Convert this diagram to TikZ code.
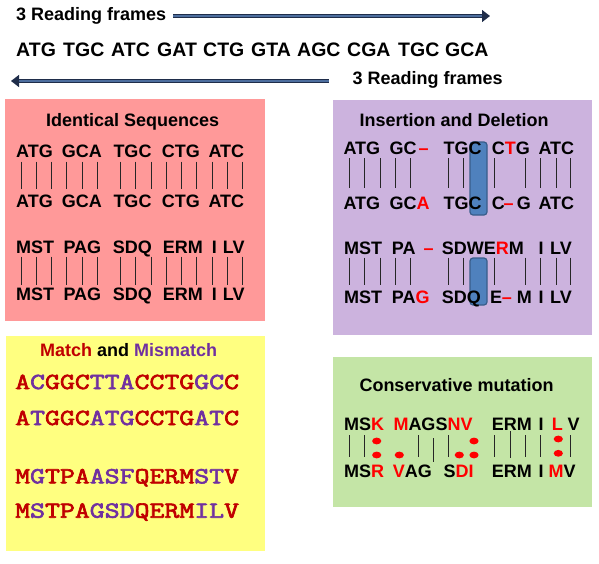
\documentclass[tikz,border=0pt]{standalone}
\usepackage{fontspec}
\setmainfont{Liberation Sans}
\newfontfamily\seqmono[FakeBold=2.5]{Latin Modern Mono}
\usetikzlibrary{arrows.meta,positioning}

\definecolor{pinkbg}{HTML}{FF9999}
\definecolor{lilacbg}{HTML}{CCB3DE}
\definecolor{yellowbg}{HTML}{FFFF80}
\definecolor{greenbg}{HTML}{C4E5A6}
\definecolor{matchred}{HTML}{C00000}
\definecolor{mispurple}{HTML}{7030A0}
\definecolor{hlblue}{HTML}{4F81BD}
\definecolor{hlline}{HTML}{385D8A}
\definecolor{arrowdark}{HTML}{1F2D4A}
\definecolor{arrowblue}{HTML}{4D6E9E}

\newcommand{\rd}[1]{\textcolor{red}{#1}}
\newcommand{\mt}[1]{\textcolor{matchred}{#1}}
\newcommand{\mm}[1]{\textcolor{mispurple}{#1}}
\newcommand{\monorow}[1]{\scalebox{1.26}[1]{#1}}

\begin{document}
\begin{tikzpicture}[x=1pt, y=-1pt,
  panel/.style={anchor=north west, inner sep=0pt, draw=none},
  ttl/.style={anchor=base west, inner sep=0pt, font=\fontsize{18}{18}\selectfont\bfseries},
  seq/.style={anchor=base west, inner sep=0pt, font=\fontsize{18}{18}\selectfont\bfseries},
  mono/.style={anchor=base west, inner sep=0pt, font=\fontsize{23}{23}\selectfont\seqmono\bfseries},
  bar/.style={line width=0.8pt, black!85},
  hl/.style={fill=hlblue, draw=hlline, line width=1.2pt, rounded corners=3pt},
  fatarrow/.style={draw=arrowdark, double=arrowblue, double distance=2.2pt, line width=1.3pt, -{Triangle[length=8pt, width=12pt]}}
]
\useasboundingbox (0,0) rectangle (599,563);

% reading frames
\node[ttl] (rf1) at (16,20) {3 Reading frames};
\coordinate (rf1tip) at (490,16);
\draw[fatarrow] (rf1.east |- rf1tip) ++(7,0) -- (rf1tip);
\foreach \w/\x [count=\i] in {ATG/16,TGC/63,ATC/111,GAT/157,CTG/203,GTA/251,AGC/297,CGA/347,TGC/398,GCA/445}
  \node[seq, font=\fontsize{19.5}{19.5}\selectfont\bfseries] (frame\i) at (\x,56.7) {\w};
\node[ttl] (rf2) at (352.5,84) {3 Reading frames};
\coordinate (rf2tip) at (11,81);
\draw[fatarrow] (rf2.west |- rf2tip) ++(-24,0) -- (rf2tip);

% panels
\node[panel, fill=pinkbg, minimum width=260pt, minimum height=222pt] (idpanel) at (5,99) {};
\node[panel, fill=lilacbg, minimum width=259pt, minimum height=235pt] (indelpanel) at (333,100) {};
\node[panel, fill=yellowbg, minimum width=259pt, minimum height=215pt] (mmpanel) at (6,336) {};
\node[panel, fill=greenbg, minimum width=259pt, minimum height=150pt] (conspanel) at (333,357) {};

% identical sequences
\node[ttl] (idttl) at (46,126.7) {Identical Sequences};
\foreach \w/\x [count=\i] in {ATG/16,GCA/61.7,TGC/113.3,CTG/161.7,ATC/208.3} {
  \node[seq] (iddna\i) at (\x,157.3) {\w};
  \node[seq] (iddnb\i) at (\x,207.3) {\w};
}
\foreach \w/\x [count=\i] in {MST/16,PAG/63.3,SDQ/112.7,ERM/162.7,I/211.7,LV/222.7} {
  \node[seq] (idpra\i) at (\x,253.3) {\w};
  \node[seq] (idprb\i) at (\x,300.7) {\w};
}
\foreach \x in {21,36,51.7,66.7,82,97.3,120.7,135.7,151,166,181.7,196.7,212,227.3,242.3} {
  \draw[bar] (\x,161.7) -- (\x,189.3);
  \draw[bar] (\x,256.7) -- (\x,285);
}

% insertion and deletion
\node[ttl] (indelttl) at (359.3,126.7) {Insertion and Deletion};
\draw[hl] (470,142) rectangle (487,215);
\draw[hl] (470,258) rectangle (487,305);
\foreach \w/\x [count=\i] in {ATG/343.3,GC/389.3,{\rd{--}}/418.3,TGC/443.3,{C\rd{T}G}/491.7,ATC/538.3}
  \node[seq] (indna\i) at (\x,154) {\w};
\foreach \w/\x [count=\i] in {ATG/343.3,{GC\rd{A}}/389.3,TGC/443.3,C/491.7,{\rd{--}}/503.3,G/516.7,ATC/538.3}
  \node[seq] (indnb\i) at (\x,209.3) {\w};
\foreach \w/\x [count=\i] in {MST/344,PA/391.7,{\rd{--}}/423.3,{SDWE\rd{R}M}/441.7,I/538.3,LV/550}
  \node[seq] (inpra\i) at (\x,254.3) {\w};
\foreach \w/\x [count=\i] in {MST/344,{PA\rd{G}}/391.7,SDQ/441.7,E/490,{\rd{--}}/501.7,M/516.7,I/538.3,LV/550}
  \node[seq] (inprb\i) at (\x,303.3) {\w};
\foreach \x in {349.3,364.7,380,395.3,410,448.3,463.3,494,525,540.7,556,570.7} {
  \draw[bar] (\x,158.3) -- (\x,188.3);
  \draw[bar] (\x,257.7) -- (\x,285);
}

% match and mismatch
\node[ttl] (mmttl) at (40,356.7) {\mt{Match} and \mm{Mismatch}};
\node[mono] (mmdna1) at (15,389) {\monorow{\mt{A}\mm{C}\mt{GGC}\mm{TTA}\mt{CCTG}\mm{GC}\mt{C}}};
\node[mono] (mmdna2) at (15,425) {\monorow{\mt{A}\mm{T}\mt{GGC}\mm{ATG}\mt{CCTG}\mm{AT}\mt{C}}};
\node[mono] (mmpro1) at (15,483.3) {\monorow{\mt{M}\mm{G}\mt{TPA}\mm{ASF}\mt{QERM}\mm{ST}\mt{V}}};
\node[mono] (mmpro2) at (15,517.7) {\monorow{\mt{M}\mm{S}\mt{TPA}\mm{GSD}\mt{QERM}\mm{IL}\mt{V}}};

% conservative mutation
\node[ttl] (consttl) at (359.3,391.7) {Conservative mutation};
\foreach \w/\x [count=\i] in {{MS\rd{K}}/344,{\rd{M}AGS\rd{NV}}/393.3,ERM/491.7,I/538.3,{\rd{L}}/551.7,V/567.3}
  \node[seq] (cona\i) at (\x,430) {\w};
\foreach \w/\x [count=\i] in {{MS\rd{R}}/344,{\rd{V}AG}/392.7,{S\rd{DI}}/443.3,ERM/491.7,I/538.3,{\rd{M}V}/548.3}
  \node[seq] (conb\i) at (\x,477.7) {\w};
\foreach \x/\ya/\yb in {349.3/435/456.7,364.7/435/456.7,418.3/435/456.7,433.3/438.3/461.7,448.3/435/456.7,494/435/456.7,510/431/458.3,525/435/456.7,540.7/435/456.7,570.7/435/456.7}
  \draw[bar] (\x,\ya) -- (\x,\yb);
\foreach \x/\y in {376.7/441,376.7/455,399.3/455,474/441,459.3/455,474/455,558.3/439,558.3/453.3}
  \fill[red] (\x,\y) ellipse [x radius=4.6pt, y radius=3.4pt];
\end{tikzpicture}
\end{document}
